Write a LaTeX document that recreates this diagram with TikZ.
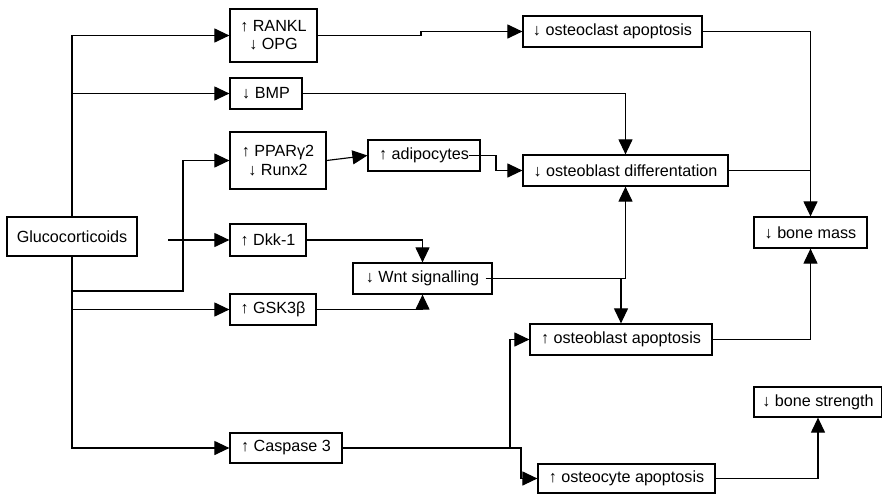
\documentclass[tikz,border=0pt]{standalone}
\usepackage{fontspec}
\setmainfont{Liberation Sans}
\usepackage{tikz}
\usetikzlibrary{arrows.meta, positioning}

\begin{document}
\begin{tikzpicture}[x=0.02cm, y=-0.02cm,
    box/.style={draw, line width=0.7pt, inner sep=0pt, align=center,
      minimum height=0.62cm, font=\fontsize{9.2}{10.4}\selectfont},
    link/.style={line width=0.65pt},
    arr/.style={link, -{Triangle[length=0.3cm, width=0.28cm]}}]
  \useasboundingbox (0,0) rectangle (882,494);
  \clip (0,0) rectangle (882,494);

  \node[box, minimum width=2.6cm, minimum height=0.78cm] (gluc) at (72,236.5) {Glucocorticoids};

  \node[box, minimum width=1.74cm, minimum height=1.06cm] (rankl) at (273.5,35.5) {↑ RANKL\\↓ OPG};
  \node[box, minimum width=1.44cm] (bmp) at (266,93.5) {↓ BMP};
  \node[box, minimum width=1.92cm, minimum height=1.14cm] (ppar) at (278,160.5) {↑ PPARγ2\\↓ Runx2};
  \node[box, minimum width=1.52cm, minimum height=0.64cm] (dkk) at (268,240) {↑ Dkk-1};
  \node[box, minimum width=1.72cm] (gsk) at (273,309.5) {↑ GSK3β};
  \node[box, minimum width=2.24cm, minimum height=0.6cm] (casp) at (286,448) {↑ Caspase 3};

  \node[box, minimum width=2.24cm] (adipo) at (424,155.5) {↑ adipocytes};
  \node[box, minimum width=2.78cm] (wnt) at (422.5,278.5) {↓ Wnt signalling};

  \node[box, minimum width=3.58cm] (oclast) at (612.5,31.5) {↓ osteoclast apoptosis};
  \node[box, minimum width=4.1cm] (odiff) at (625.5,170.5) {↓ osteoblast differentation};
  \node[box, minimum width=3.64cm] (oapop) at (621,339.5) {↑ osteoblast apoptosis};
  \node[box, minimum width=3.54cm, minimum height=0.58cm] (ocyte) at (626.5,478.5) {↑ osteocyte apoptosis};

  \node[box, minimum width=2.26cm] (bmass) at (810.5,232.5) {↓ bone mass};
  \node[box, minimum width=2.56cm, minimum height=0.6cm] (bstr) at (818,402) {↓ bone strength};

  \coordinate (pbend) at (183,291);
  \coordinate (dstart) at (168,240);
  \coordinate (kink) at (421,0);
  \coordinate (abend) at (496,0);
  \coordinate (csplit) at (510,448);
  \coordinate (csplit2) at (521,448);

  % from glucocorticoids
  \draw[arr] (gluc.north) |- (rankl.west);
  \draw[arr] (gluc.north |- bmp.west) -- (bmp.west);
  \draw[arr] (gluc.south) |- (pbend) |- (ppar.west);
  \draw[arr] (dstart) -- (dkk.west);
  \draw[arr] (gluc.south |- gsk.west) -- (gsk.west);
  \draw[arr] (gluc.south) |- (casp.west);

  % middle column
  \draw[arr] (rankl.east) -| (kink |- oclast.west) -- (oclast.west);
  \draw[arr] (bmp.east) -| (odiff.north);
  \draw[arr] (ppar.east) -- (adipo.west);
  \draw[arr] ([xshift=-0.24cm]adipo.east) -| (abend |- odiff.west) -- (odiff.west);
  \draw[arr] (dkk.east) -| (wnt.north);
  \draw[arr] (gsk.east) -| (wnt.south);
  \draw[arr] ([xshift=-0.14cm]wnt.east) -| (odiff.south);
  \draw[arr] (oapop.north |- wnt.east) -- (oapop.north);
  \draw[arr] (casp.east) -- (csplit) |- (oapop.west);
  \draw[arr] (csplit) -- (csplit2) |- (ocyte.west);

  % to bone mass / strength
  \draw[arr] (oclast.east) -| (bmass.north);
  \draw[link] (odiff.east) -- (odiff.east -| bmass.north);
  \draw[arr] (oapop.east) -| (bmass.south);
  \draw[arr] (ocyte.east) -| (bstr.south);
\end{tikzpicture}
\end{document}
